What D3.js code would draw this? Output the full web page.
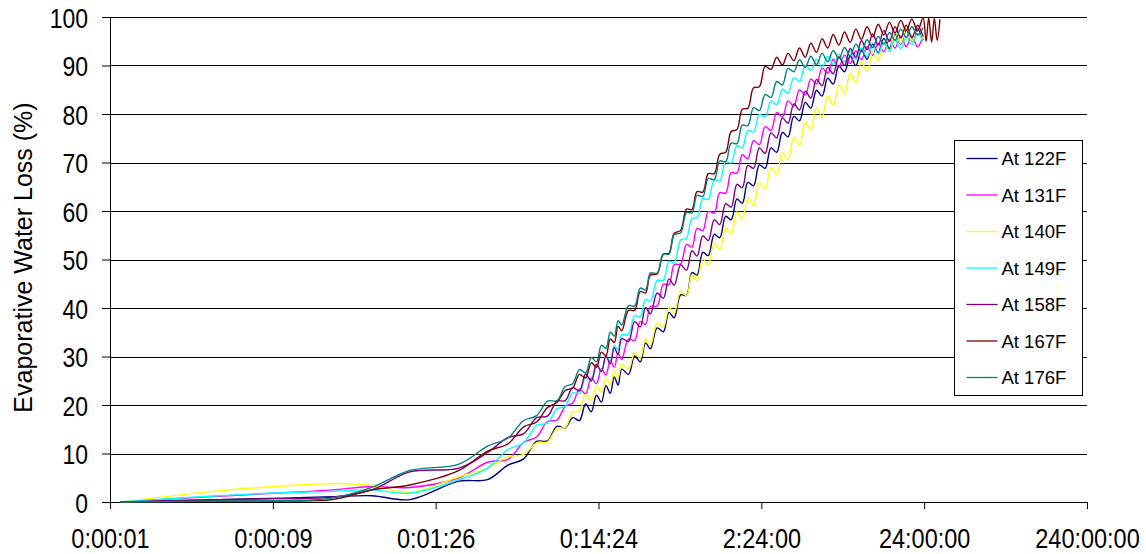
<!DOCTYPE html>
<html>
<head>
<meta charset="utf-8">
<script src="https://cdn.jsdelivr.net/npm/d3@7"></script>
<style>
  body { margin: 0; background: #fff; }
  svg { display: block; }
  text { font-family: "Liberation Sans", Arial, sans-serif; fill: #000; }
</style>
</head>
<body>
<div id="chart"></div>
<script>
// elapsed time of each reading, in seconds
var timeSec = [1, 4, 10, 20, 35, 60, 120, 180, 240, 300, 360, 420, 480, 540, 600,
  660, 720, 780, 840, 900, 960, 1020, 1080, 1140, 1200, 1320, 1440, 1560, 1680, 1800,
  1980, 2160, 2340, 2520, 2760, 3000, 3240, 3480, 3780, 4080, 4440, 4800, 5220, 5640,
  6120, 6600, 7140, 7740, 8400, 9120, 9900, 10740, 11640, 12600, 13680, 14820, 16080,
  17400, 18840, 20400, 22080, 23880, 25860, 28020, 30360, 32880, 35580, 38520, 41700,
  45120, 48840, 52860, 57240, 61980, 67080, 72600, 78600, 85080,
  88800, 92100, 96000, 99720, 103800, 108000];

var loss122 = [0, 0.5, 0.8, 1.1, 1.3, 0.5, 4.3, 4.6, 7.6, 8.9, 12.5, 12.6, 15.6, 15.3, 17.4,
  16.8, 20.2, 18.6, 22.0, 20.6, 24.0, 22.4, 25.8, 24.1, 27.4, 26.3, 30.1, 28.9, 32.8, 31.6,
  35.9, 35.1, 39.1, 38.0, 42.7, 42.6, 47.3, 46.8, 51.5, 50.8, 55.2, 54.5, 58.9, 58.2, 62.5, 61.6,
  65.9, 65.2, 69.5, 68.8, 73.0, 72.1, 76.2, 75.3, 79.5, 78.6, 82.4, 81.2, 84.9, 83.7, 87.4, 86.2,
  89.9, 88.7, 91.9, 90.0, 93.2, 91.3, 94.4, 92.6, 95.6, 93.5, 96.5, 94.4, 97.3, 95.0, 97.6, 95.3];

var loss131 = [0, 1.2, 1.9, 2.5, 3.2, 3.0, 5.0, 8.2, 8.8, 12.3, 13.4, 16.6, 16.9, 19.7, 20.4,
  23.3, 22.3, 25.6, 24.4, 27.5, 26.2, 29.2, 27.8, 30.7, 29.4, 33.6, 33.3, 37.2, 36.6, 40.3,
  40.4, 44.9, 44.8, 48.9, 49.1, 53.1, 52.6, 56.4, 56.0, 59.9, 59.6, 63.8, 63.7, 67.9, 67.8, 71.6,
  70.8, 74.5, 73.7, 77.4, 76.6, 80.3, 79.4, 82.7, 81.6, 85.0, 83.9, 87.2, 86.2, 89.5, 88.4, 91.3,
  89.6, 92.2, 90.4, 93.0, 91.2, 93.9, 92.1, 94.6, 92.8, 95.4, 93.6, 96.1, 93.9, 96.1, 93.9, 96.0];

var loss140 = [0, 2.3, 3.3, 3.8, 3.4, 2.0, 5.2, 7.0, 9.3, 9.8, 12.2, 12.4, 15.2, 15.4, 18.5,
  18.9, 22.2, 20.9, 24.0, 22.6, 25.6, 24.1, 27.2, 25.6, 28.5, 27.4, 30.8, 29.6, 33.6, 32.4,
  36.9, 36.0, 40.1, 39.0, 43.5, 42.5, 46.9, 45.6, 50.1, 48.8, 53.4, 52.0, 56.6, 55.2, 59.8, 58.2,
  62.8, 61.2, 65.9, 64.4, 69.0, 67.5, 72.1, 70.5, 75.2, 73.6, 78.3, 76.7, 81.3, 79.4, 83.7, 81.8,
  86.0, 84.1, 88.4, 86.5, 90.7, 88.8, 93.0, 90.9, 95.1, 92.8, 96.8, 94.5, 97.8, 95.0, 98.3, 95.5];

var loss149 = [0, 1.3, 1.9, 2.2, 2.5, 1.8, 4.6, 7.0, 10.8, 12.2, 15.8, 16.3, 19.2, 19.8, 22.5,
  22.4, 25.7, 24.9, 28.1, 27.1, 30.1, 29.0, 32.3, 31.4, 34.5, 34.5, 38.4, 38.2, 41.8, 41.4,
  45.7, 45.7, 49.6, 49.4, 54.0, 54.4, 58.5, 58.6, 62.6, 62.4, 66.4, 66.2, 70.2, 69.9, 73.5, 73.0,
  76.6, 76.3, 79.9, 79.4, 82.7, 81.9, 85.1, 84.3, 87.5, 86.7, 90.0, 89.0, 91.3, 89.6, 91.9, 90.2,
  92.4, 90.7, 93.0, 91.3, 93.6, 91.8, 94.1, 92.4, 94.7, 93.0, 95.3, 93.5, 95.9, 94.3, 96.6, 95.0];

var loss158 = [0, 0.5, 0.7, 1.0, 2.5, 6.2, 7.0, 10.2, 13.3, 14.1, 17.4, 17.7, 20.8, 20.9, 23.6,
  22.9, 26.4, 25.0, 28.4, 26.9, 30.1, 28.5, 31.8, 30.4, 33.7, 33.1, 37.2, 36.1, 40.1, 38.8,
  43.1, 42.0, 46.0, 44.7, 48.9, 47.8, 51.8, 50.7, 54.9, 53.9, 58.2, 57.2, 61.5, 60.8, 65.5, 64.8,
  69.4, 68.8, 73.0, 71.9, 76.1, 75.1, 79.2, 78.1, 82.1, 80.8, 84.7, 83.3, 87.1, 85.8, 89.6, 88.3,
  91.8, 90.0, 93.5, 91.7, 95.1, 93.3, 96.5, 94.2, 97.2, 95.0, 98.0, 95.7, 98.3, 95.7, 98.3, 96.0];

var loss167 = [0, 0.2, 0.2, 0.5, 2.5, 3.5, 6.5, 10.5, 12.0, 15.5, 16.5, 19.5, 20.5, 23.0, 23.5,
  26.3, 25.6, 28.7, 27.8, 30.9, 30.2, 33.6, 32.9, 36.2, 35.3, 39.5, 39.5, 43.4, 43.1, 46.8,
  47.0, 51.1, 51.3, 55.4, 56.0, 60.4, 60.3, 64.0, 63.9, 67.7, 67.7, 71.7, 72.1, 76.4, 76.8, 81.0,
  81.2, 85.4, 85.6, 89.8, 89.2, 91.7, 90.1, 92.5, 91.0, 93.6, 91.7, 94.6, 92.7, 95.5, 93.6, 96.4,
  94.2, 96.9, 94.8, 97.5, 95.4, 98.0, 95.9, 98.5, 96.3, 98.9, 96.7, 99.3, 97.2, 99.6, 97.1, 99.8,
  95.0, 99.8, 94.8, 99.7, 95.2, 99.5];

var loss176 = [0, 0.2, 0.3, 0.8, 3.0, 6.5, 7.8, 11.5, 13.2, 16.8, 17.8, 20.8, 20.9, 23.8, 24.4,
  27.3, 26.6, 29.8, 28.9, 32.3, 31.7, 35.0, 34.2, 37.4, 36.5, 40.5, 40.4, 44.1, 43.7, 47.2,
  47.2, 51.1, 51.1, 55.1, 55.5, 59.7, 59.6, 63.2, 63.0, 66.7, 66.5, 70.3, 70.2, 74.0, 73.9, 77.7,
  77.6, 81.3, 80.7, 84.0, 83.4, 86.7, 86.0, 89.4, 88.7, 91.2, 89.6, 91.9, 90.2, 92.5, 90.8, 93.1,
  91.4, 93.7, 92.0, 94.4, 92.8, 95.3, 93.7, 96.0, 94.4, 96.8, 95.2, 97.5, 95.8, 98.0, 96.3, 97.8];

var seriesNames = ["At 122F", "At 131F", "At 140F", "At 149F", "At 158F", "At 167F", "At 176F"];
var seriesValues = [loss122, loss131, loss140, loss149, loss158, loss167, loss176];
var seriesColors = ["#000080", "#ff00ff", "#ffff00", "#00ffff", "#800080", "#800000", "#008080"];

// ticks sit at powers of ten of a day (0.864 s ... 10 days)
var xTicks = [0.864, 8.64, 86.4, 864, 8640, 86400, 864000];
var yTicks = [0, 10, 20, 30, 40, 50, 60, 70, 80, 90, 100];

var svgWidth = 1146;
var svgHeight = 554;
var margin = {top: 17, right: 59, bottom: 52, left: 110};
var width = svgWidth - margin.left - margin.right;
var height = svgHeight - margin.top - margin.bottom;

var svg = d3.select("#chart")
  .append("svg")
  .attr("width", svgWidth)
  .attr("height", svgHeight);

var chartGroup = svg.append("g")
  .attr("transform", "translate(" + margin.left + "," + margin.top + ")");

var xScale = d3.scaleLog().domain([0.864, 864000]).range([0, width]);
var yScale = d3.scaleLinear().domain([0, 100]).range([height, 0]);

function fmtTime(s) {
  var t = Math.round(s);
  var h = Math.floor(t / 3600);
  var m = Math.floor((t % 3600) / 60);
  var sec = t % 60;
  return h + ":" + String(m).padStart(2, "0") + ":" + String(sec).padStart(2, "0");
}

// horizontal gridlines
chartGroup.append("g")
  .selectAll("line")
  .data(yTicks.slice(1))
  .enter()
  .append("line")
  .attr("x1", 0)
  .attr("x2", width)
  .attr("y1", d => Math.round(yScale(d)) + 0.5)
  .attr("y2", d => Math.round(yScale(d)) + 0.5)
  .attr("stroke", "#000")
  .attr("stroke-width", 1);

var xAxis = chartGroup.append("g")
  .attr("transform", "translate(0," + height + ")")
  .call(d3.axisBottom(xScale).tickValues(xTicks).tickFormat(fmtTime).tickSize(7).tickSizeOuter(0));

xAxis.selectAll("text")
  .attr("y", null)
  .attr("dy", null)
  .attr("font-size", 23.5)
  .attr("font-family", null)
  .attr("transform", "translate(0,46) scale(1,1.2)");

var yAxis = chartGroup.append("g")
  .call(d3.axisLeft(yScale).tickValues(yTicks).tickSize(8).tickSizeOuter(0));

yAxis.selectAll("text")
  .attr("x", null)
  .attr("dy", null)
  .attr("font-size", 23)
  .attr("font-family", null)
  .attr("transform", "translate(-22,10) scale(1,1.2)");

svg.selectAll(".domain, .tick line").attr("stroke", "#000");

var line = d3.line()
  .defined(d => d[1] != null)
  .x(d => xScale(d[0]))
  .y(d => yScale(d[1]))
  .curve(d3.curveCatmullRom.alpha(0.5));

seriesValues.forEach(function(vals, i) {
  var pts = vals.map((v, j) => [timeSec[j], v]);
  chartGroup.append("path")
    .datum(pts)
    .attr("d", line)
    .attr("fill", "none")
    .attr("stroke", seriesColors[i])
    .attr("stroke-width", 1.4)
    .attr("stroke-linejoin", "round");
});

svg.append("text")
  .attr("transform", "translate(32," + (margin.top + height / 2 - 2) + ") rotate(-90)")
  .attr("text-anchor", "middle")
  .attr("font-size", 25)
  .text("Evaporative Water Loss (%)");

// legend
var legend = svg.append("g").attr("transform", "translate(954.5,140.5)");

legend.append("rect")
  .attr("width", 128)
  .attr("height", 255)
  .attr("fill", "#fff")
  .attr("stroke", "#000")
  .attr("stroke-width", 1);

var items = legend.selectAll(".item")
  .data(seriesNames)
  .enter()
  .append("g")
  .attr("transform", (d, i) => "translate(0," + (18 + i * 36.5) + ")");

items.append("line")
  .attr("x1", 12)
  .attr("x2", 43)
  .attr("stroke", (d, i) => seriesColors[i])
  .attr("stroke-width", 1.3);

items.append("text")
  .attr("x", 47)
  .attr("y", 6.5)
  .attr("font-size", 18.5)
  .text(d => d);
</script>
</body>
</html>
